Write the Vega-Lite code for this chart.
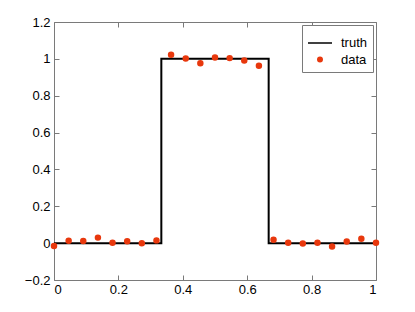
{
  "$schema": "https://vega.github.io/schema/vega-lite/v6.json",
  "width": 322,
  "height": 258,
  "autosize": "none",
  "padding": {"left": 54, "top": 22, "right": 39, "bottom": 32},
  "background": "white",
  "config": {
    "view": {"stroke": null},
    "axis": {
      "grid": false,
      "domainColor": "#7a7a7a",
      "domainWidth": 1,
      "tickColor": "#7a7a7a",
      "tickSize": -5,
      "labelFont": "Liberation Sans",
      "labelFontSize": 13,
      "labelColor": "black",
      "labelPadding": 10,
      "title": null
    },
    "legend": {
      "orient": "top-right",
      "offset": 3,
      "fillColor": "white",
      "strokeColor": "#7a7a7a",
      "padding": 5,
      "labelFont": "Liberation Sans",
      "labelFontSize": 13,
      "labelColor": "black",
      "labelOffset": 8,
      "rowPadding": 3
    }
  },
  "datasets": {
    "truth": [
      {"x": 0, "y": 0, "i": 0},
      {"x": 0.33333, "y": 0, "i": 1},
      {"x": 0.33333, "y": 1, "i": 2},
      {"x": 0.66667, "y": 1, "i": 3},
      {"x": 0.66667, "y": 0, "i": 4},
      {"x": 1, "y": 0, "i": 5}
    ],
    "obs": [
      {"x": 0.0, "y": -0.015, "series": "data"},
      {"x": 0.0455, "y": 0.013, "series": "data"},
      {"x": 0.0909, "y": 0.012, "series": "data"},
      {"x": 0.1364, "y": 0.03, "series": "data"},
      {"x": 0.1818, "y": 0.002, "series": "data"},
      {"x": 0.2273, "y": 0.01, "series": "data"},
      {"x": 0.2727, "y": 0.0, "series": "data"},
      {"x": 0.3182, "y": 0.015, "series": "data"},
      {"x": 0.3636, "y": 1.022, "series": "data"},
      {"x": 0.4091, "y": 1.002, "series": "data"},
      {"x": 0.4545, "y": 0.976, "series": "data"},
      {"x": 0.5, "y": 1.007, "series": "data"},
      {"x": 0.5455, "y": 1.004, "series": "data"},
      {"x": 0.5909, "y": 0.991, "series": "data"},
      {"x": 0.6364, "y": 0.963, "series": "data"},
      {"x": 0.6818, "y": 0.018, "series": "data"},
      {"x": 0.7273, "y": 0.002, "series": "data"},
      {"x": 0.7727, "y": -0.002, "series": "data"},
      {"x": 0.8182, "y": 0.002, "series": "data"},
      {"x": 0.8636, "y": -0.018, "series": "data"},
      {"x": 0.9091, "y": 0.009, "series": "data"},
      {"x": 0.9545, "y": 0.024, "series": "data"},
      {"x": 1.0, "y": 0.002, "series": "data"}
    ]
  },
  "layer": [
    {
      "data": {"name": "truth"},
      "mark": {"type": "line", "color": "black", "strokeWidth": 2},
      "encoding": {
        "x": {"field": "x", "type": "quantitative", "scale": {"domain": [0, 1], "nice": false},
              "axis": {"orient": "bottom", "values": [0, 0.2, 0.4, 0.6, 0.8, 1], "format": "~g", "labelPadding": 8}},
        "y": {"field": "y", "type": "quantitative", "scale": {"domain": [-0.2, 1.2], "nice": false, "zero": false},
              "axis": {"orient": "left", "values": [-0.2, 0, 0.2, 0.4, 0.6, 0.8, 1, 1.2], "format": "~g", "labelPadding": 9}},
        "order": {"field": "i", "type": "quantitative"}
      }
    },
    {
      "data": {"name": "obs"},
      "mark": {"type": "point", "filled": true, "strokeWidth": 2, "opacity": 1},
      "encoding": {
        "x": {"field": "x", "type": "quantitative",
              "axis": {"orient": "top", "values": [0, 0.2, 0.4, 0.6, 0.8, 1], "labels": false}},
        "y": {"field": "y", "type": "quantitative",
              "axis": {"orient": "right", "values": [-0.2, 0, 0.2, 0.4, 0.6, 0.8, 1, 1.2], "labels": false}},
        "fill": {
          "field": "series", "type": "nominal",
          "scale": {"domain": ["truth", "data"], "range": ["transparent", "#e8380d"]},
          "legend": {"title": null}
        },
        "stroke": {
          "field": "series", "type": "nominal",
          "scale": {"domain": ["truth", "data"], "range": ["black", "#e8380d"]},
          "legend": {"title": null}
        },
        "shape": {
          "field": "series", "type": "nominal",
          "scale": {"domain": ["truth", "data"], "range": ["stroke", "circle"]},
          "legend": {"title": null}
        },
        "size": {
          "field": "series", "type": "ordinal",
          "scale": {"domain": ["truth", "data"], "range": [576, 20]},
          "legend": {"title": null}
        }
      }
    }
  ],
  "resolve": {"axis": {"x": "independent", "y": "independent"}}
}
